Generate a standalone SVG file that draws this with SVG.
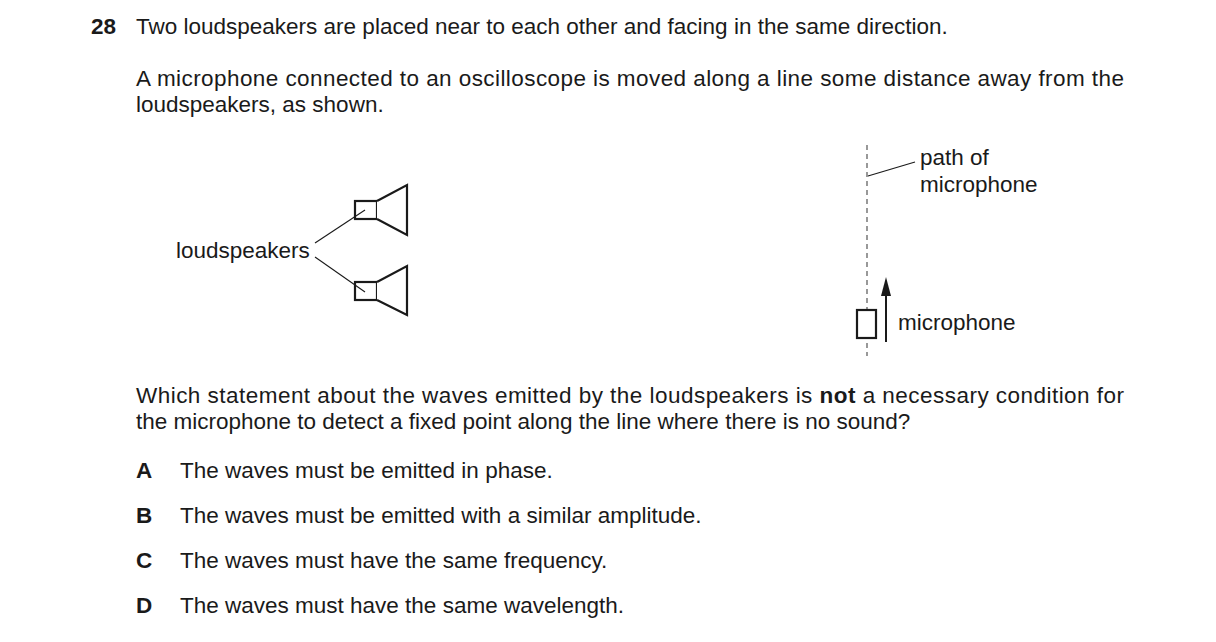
<svg xmlns="http://www.w3.org/2000/svg" width="1216" height="642" viewBox="0 0 1216 642">
<style>
text{font-family:"Liberation Sans",Arial,sans-serif;font-size:22.5px;fill:#1a1a1a}
.b{font-weight:bold}
.s{fill:#fff;stroke:#1a1a1a;stroke-width:2.2}
.l{fill:none;stroke:#1a1a1a;stroke-width:1.1}
</style>
<rect width="1216" height="642" fill="#fff"/>
<text x="91" y="34" class="b">28</text>
<text x="136" y="34">Two loudspeakers are placed near to each other and facing in the same direction.</text>
<text x="136" y="86" textLength="988" lengthAdjust="spacing">A microphone connected to an oscilloscope is moved along a line some distance away from the</text>
<text x="136" y="112">loudspeakers, as shown.</text>
<g id="path"><line x1="867" y1="145" x2="867" y2="356" stroke="#555" stroke-width="1.2" stroke-dasharray="5,4"/></g>
<g id="speaker1"><rect x="355" y="201" width="22" height="18" class="s"/><path d="M377,201 L407,185 L407,235 L377,219" class="s"/></g>
<g id="speaker2"><rect x="355" y="282" width="22" height="18" class="s"/><path d="M377,282 L407,266 L407,315 L377,300" class="s"/></g>
<g id="label-loudspeakers"><text x="176" y="258">loudspeakers</text></g>
<g id="label-path"><text x="920" y="165">path of</text><text x="920" y="192">microphone</text></g>
<g id="mic"><rect x="857" y="310" width="19" height="28" class="s"/></g>
<g id="label-mic"><text x="898" y="330">microphone</text></g>
<g id="connectors">
<line x1="315" y1="243" x2="365" y2="210" class="l"/>
<line x1="315" y1="257" x2="365" y2="292" class="l"/>
<line x1="868" y1="176" x2="915" y2="162" class="l"/>
<line x1="886" y1="342" x2="886" y2="292" stroke="#1a1a1a" stroke-width="2"/>
<polygon points="886,277 881,296 891,296" fill="#1a1a1a"/>
</g>
<text x="136" y="403" textLength="988" lengthAdjust="spacing">Which statement about the waves emitted by the loudspeakers is <tspan class="b">not</tspan> a necessary condition for</text>
<text x="136" y="429">the microphone to detect a fixed point along the line where there is no sound?</text>
<text x="136" y="478" class="b">A</text><text x="180" y="478">The waves must be emitted in phase.</text>
<text x="136" y="523" class="b">B</text><text x="180" y="523">The waves must be emitted with a similar amplitude.</text>
<text x="136" y="568" class="b">C</text><text x="180" y="568">The waves must have the same frequency.</text>
<text x="136" y="613" class="b">D</text><text x="180" y="613">The waves must have the same wavelength.</text>
</svg>
